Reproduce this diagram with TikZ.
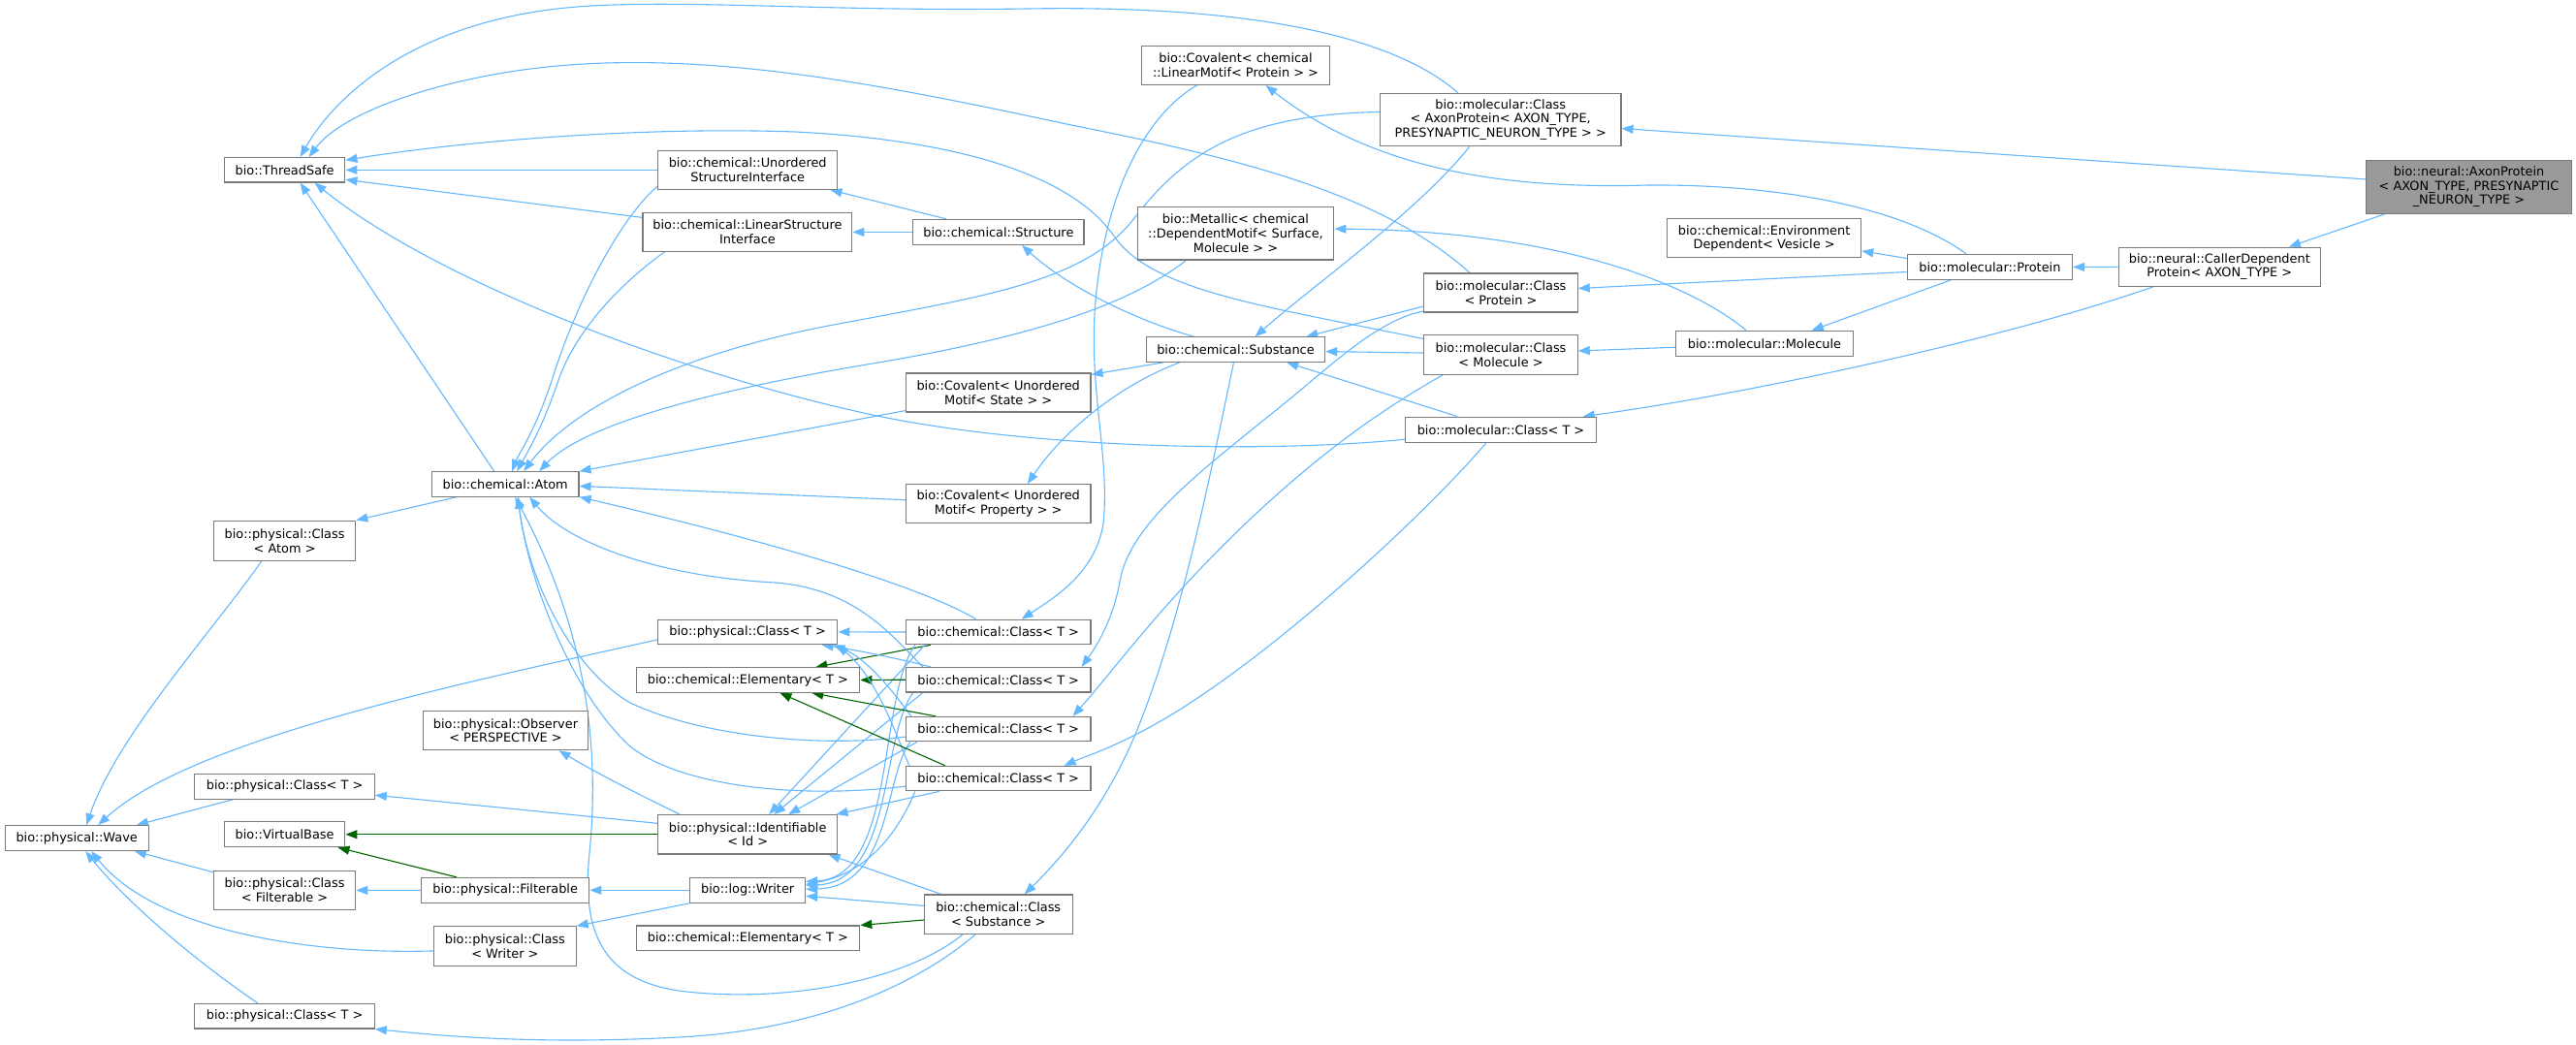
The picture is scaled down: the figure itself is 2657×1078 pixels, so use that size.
\documentclass[tikz,border=0pt]{standalone}
\usepackage{fontspec}
\setmainfont{DejaVu Sans}
\usetikzlibrary{arrows.meta,calc}
\definecolor{edgeblue}{HTML}{63B8FF}
\definecolor{edgegreen}{HTML}{006400}
\definecolor{boxgray}{HTML}{7A7A7A}
\definecolor{hlfill}{HTML}{999999}
\pgfdeclarelayer{bg}
\pgfsetlayers{bg,main}
\begin{document}
\begin{tikzpicture}[x=1pt,y=-1pt,
  cls/.style={draw=boxgray, line width=1.1pt, fill=white, inner sep=0pt, align=center,
    font=\fontsize{12.9}{14.6}\selectfont},
  sz/.style 2 args={minimum width=#1pt, minimum height=#2pt},
  pub/.style={draw=edgeblue, line width=1.1pt, -{Triangle[length=12pt,width=9pt]}},
  prot/.style={draw=edgegreen, line width=1.1pt, -{Triangle[length=12pt,width=9pt]}}]
\useasboundingbox (0,0) rectangle (2657,1078);

% ---------- nodes ----------
\node[cls,sz={124.6}{25.5}] (TS) at (293.6,175.3) {bio::ThreadSafe};
\node[cls,sz={185.4}{40}] (USI) at (771.2,175.3) {bio::chemical::Unordered\\StructureInterface};
\node[cls,sz={215.8}{40}] (LSI) at (770.9,239.4) {bio::chemical::LinearStructure\\Interface};
\node[cls,sz={151.6}{25.5}] (Atom) at (521.2,499.4) {bio::chemical::Atom};
\node[cls,sz={146.4}{41.4}] (CA) at (293.6,557.9) {bio::physical::Class\\< Atom >};
\node[cls,sz={185.4}{25.5}] (P1) at (771.2,651.9) {bio::physical::Class< T >};
\node[cls,sz={230.7}{25.5}] (E1) at (771.4,701.5) {bio::chemical::Elementary< T >};
\node[cls,sz={170.5}{40.3}] (Obs) at (521.5,753.6) {bio::physical::Observer\\< PERSPECTIVE >};
\node[cls,sz={185.4}{25.8}] (P2) at (293.6,811.2) {bio::physical::Class< T >};
\node[cls,sz={148.1}{25.8}] (Wave) at (79.2,864.6) {bio::physical::Wave};
\node[cls,sz={124.6}{25.8}] (VB) at (293.6,860.8) {bio::VirtualBase};
\node[cls,sz={185.4}{40.3}] (Id) at (771.2,860.8) {bio::physical::Identifiable\\< Id >};
\node[cls,sz={146.4}{40.3}] (CF) at (293.6,918.4) {bio::physical::Class\\< Filterable >};
\node[cls,sz={173.4}{25.8}] (Filt) at (521.2,918.3) {bio::physical::Filterable};
\node[cls,sz={118.8}{25.8}] (Wr) at (771.2,918.3) {bio::log::Writer};
\node[cls,sz={146.4}{40.3}] (CW) at (520.9,975.9) {bio::physical::Class\\< Writer >};
\node[cls,sz={230.7}{25.8}] (E2) at (771.4,967.9) {bio::chemical::Elementary< T >};
\node[cls,sz={185.4}{25.8}] (P3) at (293.6,1048.1) {bio::physical::Class< T >};
\node[cls,sz={194.6}{40.3}] (CovL) at (1274.5,67.3) {bio::Covalent< chemical\\::LinearMotif< Protein > >};
\node[cls,sz={248.6}{54.7}] (MCA) at (1547.7,123.5) {bio::molecular::Class\\< AxonProtein< AXON\_TYPE,\\ PRESYNAPTIC\_NEURON\_TYPE > >};
\node[cls,sz={176.2}{26}] (Str) at (1029.9,239.4) {bio::chemical::Structure};
\node[cls,sz={202.6}{54.7}] (Met) at (1274.5,240.6) {bio::Metallic< chemical\\::DependentMotif< Surface,\\ Molecule > >};
\node[cls,sz={158.4}{40}] (MCP) at (1548,302) {bio::molecular::Class\\< Protein >};
\node[cls,sz={184.3}{25.5}] (Sub) at (1274.5,360.6) {bio::chemical::Substance};
\node[cls,sz={158.4}{40.3}] (MCM) at (1548,366) {bio::molecular::Class\\< Molecule >};
\node[cls,sz={190.6}{40}] (CovS) at (1029.7,405) {bio::Covalent< Unordered\\Motif< State > >};
\node[cls,sz={196.3}{26.2}] (MCT) at (1548,443.2) {bio::molecular::Class< T >};
\node[cls,sz={190.6}{40}] (CovP) at (1029.7,519.7) {bio::Covalent< Unordered\\Motif< Property > >};
\node[cls,sz={190.6}{25.5}] (C1) at (1029.7,652) {bio::chemical::Class< T >};
\node[cls,sz={190.6}{25.5}] (C2) at (1029.7,701.2) {bio::chemical::Class< T >};
\node[cls,sz={190.6}{25.5}] (C3) at (1029.7,752.1) {bio::chemical::Class< T >};
\node[cls,sz={190.6}{25.5}] (C4) at (1029.7,803.1) {bio::chemical::Class< T >};
\node[cls,sz={152.7}{40.6}] (CS) at (1029.7,943.3) {bio::chemical::Class\\< Substance >};
\node[cls,sz={211.2}{55.1},fill=hlfill] (Ax) at (2546.5,192.9) {bio::neural::AxonProtein\\< AXON\_TYPE, PRESYNAPTIC\\\_NEURON\_TYPE >};
\node[cls,sz={200.2}{40}] (Env) at (1819.6,245.9) {bio::chemical::Environment\\Dependent< Vesicle >};
\node[cls,sz={170.3}{25.5}] (Prot) at (2052.4,275.5) {bio::molecular::Protein};
\node[cls,sz={208.1}{40.3}] (CDP) at (2289.3,275.3) {bio::neural::CallerDependent\\Protein< AXON\_TYPE >};
\node[cls,sz={182.5}{25.8}] (Mol) at (1820,354.2) {bio::molecular::Molecule};

% ---------- edges ----------
\begin{pgfonlayer}{bg}
\fill[white] (0,0) rectangle (2657,1078);
% right part
\draw[pub] ([xshift=19pt]Ax.south west) -- ([xshift=-33pt]CDP.north east);
\draw[pub] ([yshift=8pt]Ax.west) -- ([yshift=-9pt]MCA.east);
\draw[pub] (CDP.west) -- (Prot.east);
\draw[pub] ([xshift=36pt]CDP.south west) .. controls (2050,355) and (1780,410) .. ([xshift=-14pt]MCT.north east);
\draw[pub] ([yshift=9pt]Prot.west) -- ([yshift=-13pt]Env.east);
\draw[pub] ([xshift=-40pt]Prot.south) -- ([xshift=-43pt]Mol.north east);
\draw[pub] ([yshift=-5pt]Prot.west) -- ([yshift=4.5pt]MCP.east);
\draw[pub] ([xshift=-24pt]Prot.north) .. controls (1960,212) and (1830,190) .. (1700,191) .. controls (1560,195) and (1420,178) .. ([xshift=31pt]CovL.south);
\draw[pub] ([xshift=-19pt]Mol.north) .. controls (1740,290) and (1600,238) .. ([yshift=4.5pt]Met.east);
\draw[pub] ([yshift=-4pt]Mol.west) -- ([yshift=4pt]MCM.east);
% molecular classes
\draw[pub] ([xshift=-44pt]MCA.north) .. controls (1440,40) and (1300,5) .. (1060,9) .. controls (860,12) and (720,0) .. (610,6) .. controls (430,16) and (345,100) .. ([xshift=16pt]TS.north);
\draw[pub] ([xshift=-32pt]MCA.south) .. controls (1460,220) and (1360,290) .. ([xshift=20pt]Sub.north);
\draw[pub] ([yshift=8pt]MCA.west) .. controls (1280,118) and (1220,160) .. (1170,225) .. controls (1120,290) and (1020,305) .. (860,335) .. controls (700,365) and (590,420) .. ([xshift=19pt]Atom.north);
\draw[pub] ([xshift=-32pt]MCP.north) .. controls (1420,195) and (1260,160) .. (1100,128) .. controls (900,85) and (700,45) .. (520,75) .. controls (430,90) and (350,120) .. ([xshift=25pt]TS.north);
\draw[pub] ([yshift=-14pt]MCP.west) -- ([xshift=-20pt]Sub.north east);
\draw[pub] ([yshift=-19pt]MCP.west) .. controls (1420,330) and (1370,380) .. (1320,420) .. controls (1240,485) and (1165,540) .. (1155,600) .. controls (1148,640) and (1130,668) .. ([xshift=-10pt]C2.north east);
\draw[pub] ([yshift=16.5pt]MCM.west) .. controls (1300,315) and (1190,300) .. (1150,245) .. controls (1110,185) and (1000,145) .. (820,136) .. controls (650,130) and (460,148) .. ([yshift=10pt]TS.east);
\draw[pub] ([yshift=2pt]MCM.west) -- ([yshift=-2pt]Sub.east);
\draw[pub] ([xshift=20pt]MCM.south west) .. controls (1430,420) and (1370,460) .. (1290,535) .. controls (1200,620) and (1150,690) .. ([xshift=-19pt]C3.north east);
\draw[pub] ([yshift=-10pt]MCT.west) .. controls (1300,468) and (1060,462) .. (900,428) .. controls (700,385) and (450,290) .. ([xshift=31pt]TS.south);
\draw[pub] ([xshift=-45pt]MCT.north) -- ([xshift=-40pt]Sub.south east);
\draw[pub] ([xshift=-15pt]MCT.south) .. controls (1470,530) and (1330,660) .. (1220,730) .. controls (1160,768) and (1120,780) .. ([xshift=-28pt]C4.north east);
% structure interfaces
\draw[pub] (USI.west) -- (TS.east);
\draw[pub] ([yshift=-17pt]USI.west) .. controls (640,225) and (595,310) .. (570,390) .. controls (552,445) and (535,468) .. ([xshift=7pt]Atom.north);
\draw[pub] ([yshift=15pt]LSI.west) -- ([yshift=-10pt]TS.east);
\draw[pub] ([xshift=23pt]LSI.south west) .. controls (650,285) and (595,335) .. (575,395) .. controls (558,445) and (542,470) .. ([xshift=12pt]Atom.north);
\draw[pub] ([xshift=-54pt]Str.north) -- ([xshift=-8pt]USI.south east);
\draw[pub] (Str.west) -- (LSI.east);
% substance
\draw[pub] ([xshift=-43pt]Sub.north) .. controls (1170,330) and (1100,295) .. ([xshift=24pt]Str.south);
\draw[pub] ([xshift=18pt]Sub.south west) -- ([yshift=-2pt]CovS.north east);
\draw[pub] ([xshift=35pt]Sub.south west) .. controls (1160,395) and (1100,440) .. ([xshift=30pt]CovP.north);
\draw[pub] ([xshift=-2pt]Sub.south) .. controls (1250,480) and (1220,640) .. (1170,760) .. controls (1140,830) and (1100,880) .. ([xshift=27pt]CS.north);
% motifs
\draw[pub] ([xshift=-51pt]Met.south) .. controls (1170,310) and (1080,345) .. (900,375) .. controls (720,405) and (600,440) .. ([xshift=35pt]Atom.north);
\draw[pub] ([yshift=-18.6pt]CovS.west) -- (Atom.north east);
\draw[pub] ([yshift=4pt]CovP.west) -- ([yshift=-2pt]Atom.east);
\draw[pub] ([xshift=-40pt]CovL.south) .. controls (1180,120) and (1140,200) .. (1130,310) .. controls (1122,400) and (1145,470) .. (1138,540) .. controls (1130,590) and (1090,615) .. ([xshift=24pt]C1.north);
% chemical::Class nodes
\draw[pub] (C1.west) -- (P1.east);
\draw[prot] ([xshift=26pt]C1.south west) -- ([xshift=-46pt]E1.north east);
\draw[pub] ([xshift=-23pt]C1.north) .. controls (950,605) and (800,560) .. (Atom.south east);
\draw[pub] ([xshift=20pt]C1.south west) -- ([xshift=22pt]Id.north);
\draw[pub] ([xshift=10pt]C1.south west) .. controls (905,720) and (925,905) .. ([yshift=9pt]Wr.east);

\draw[pub] ([xshift=26pt]C2.north west) .. controls (930,680) and (880,670) .. ([xshift=-17pt]P1.south east);
\draw[prot] (C2.west) -- (E1.east);
\draw[pub] ([xshift=18pt]C2.north west) .. controls (915,650) and (880,608) .. (800,601) .. controls (680,595) and (585,560) .. ([xshift=25pt]Atom.south);
\draw[pub] ([xshift=18pt]C2.south west) -- ([xshift=27pt]Id.north);
\draw[pub] ([xshift=8pt]C2.south west) .. controls (908,760) and (922,910) .. ([yshift=5pt]Wr.east);

\draw[pub] ([xshift=6pt]C3.north west) .. controls (920,712) and (895,680) .. ([xshift=-5pt]P1.south east);
\draw[prot] ([xshift=31pt]C3.north west) -- ([xshift=-50pt]E1.south east);
\draw[pub] ([yshift=-8pt]C3.west) .. controls (840,772) and (720,758) .. (650,725) .. controls (590,690) and (545,600) .. ([xshift=13pt]Atom.south);
\draw[pub] ([xshift=12pt]C3.south west) -- ([xshift=42pt]Id.north);
\draw[pub] ([xshift=5pt]C3.south west) .. controls (912,800) and (920,915) .. ([yshift=1pt]Wr.east);

\draw[pub] ([xshift=4pt]C4.north west) .. controls (925,760) and (905,700) .. ([xshift=-1pt]P1.south east);
\draw[prot] ([xshift=41pt]C4.north west) -- ([xshift=33pt]E1.south);
\draw[pub] ([yshift=-8pt]C4.west) .. controls (820,825) and (700,810) .. (650,770) .. controls (590,715) and (545,600) .. ([xshift=13pt]Atom.south);
\draw[pub] ([xshift=35pt]C4.south west) -- ([xshift=-2pt]Id.north east);
\draw[pub] ([xshift=10pt]C4.south west) .. controls (930,850) and (900,900) .. ([yshift=6pt]Wr.east);

\draw[pub] ([xshift=-37pt]CS.south) .. controls (930,1015) and (800,1035) .. (700,1022) .. controls (620,1010) and (600,960) .. (608,880) .. controls (620,760) and (600,640) .. ([xshift=10pt]Atom.south);
\draw[pub] ([yshift=9pt]CS.west) -- ([yshift=-6pt]Wr.east);
\draw[pub] ([xshift=18pt]CS.north west) -- ([xshift=-10pt]Id.south east);
\draw[prot] ([yshift=-5.7pt]CS.west) -- (E2.north east);
\draw[pub] ([xshift=53pt]CS.south west) .. controls (950,1012) and (850,1062) .. (700,1070) .. controls (550,1078) and (450,1068) .. (P3.south east);
% identifiable, writer, filterable
\draw[prot] (Id.west) -- (VB.east);
\draw[pub] ([xshift=-70pt]Id.north) .. controls (660,820) and (620,800) .. ([xshift=55pt]Obs.south);
\draw[pub] ([yshift=11.5pt]Id.west) -- ([yshift=-9pt]P2.east);
\draw[pub] (Wr.west) -- (Filt.east);
\draw[pub] (Wr.south west) -- (CW.north east);
\draw[prot] ([xshift=37pt]Filt.north west) -- ([xshift=-8pt]VB.south east);
\draw[pub] (Filt.west) -- (CF.east);
% wave
\draw[pub] ([xshift=-24pt]CA.south) .. controls (220,650) and (120,760) .. ([xshift=10pt]Wave.north);
\draw[pub] ([yshift=-8pt]P1.west) .. controls (500,700) and (200,760) .. ([xshift=22pt]Wave.north);
\draw[pub] ([xshift=-53pt]P2.south) -- ([xshift=-13pt]Wave.north east);
\draw[pub] ([yshift=-2pt]CF.north west) -- ([xshift=-15pt]Wave.south east);
\draw[pub] ([yshift=-5pt]CW.west) .. controls (320,985) and (160,960) .. ([xshift=15pt]Wave.south);
\draw[pub] ([xshift=-28pt]P3.north) .. controls (200,990) and (130,930) .. ([xshift=9pt]Wave.south);
% atom
\draw[pub] ([xshift=-50pt]Atom.south) -- (CA.north east);
\draw[pub] ([xshift=-11.5pt]Atom.north) -- ([xshift=16pt]TS.south);
\end{pgfonlayer}
\end{tikzpicture}
\end{document}
